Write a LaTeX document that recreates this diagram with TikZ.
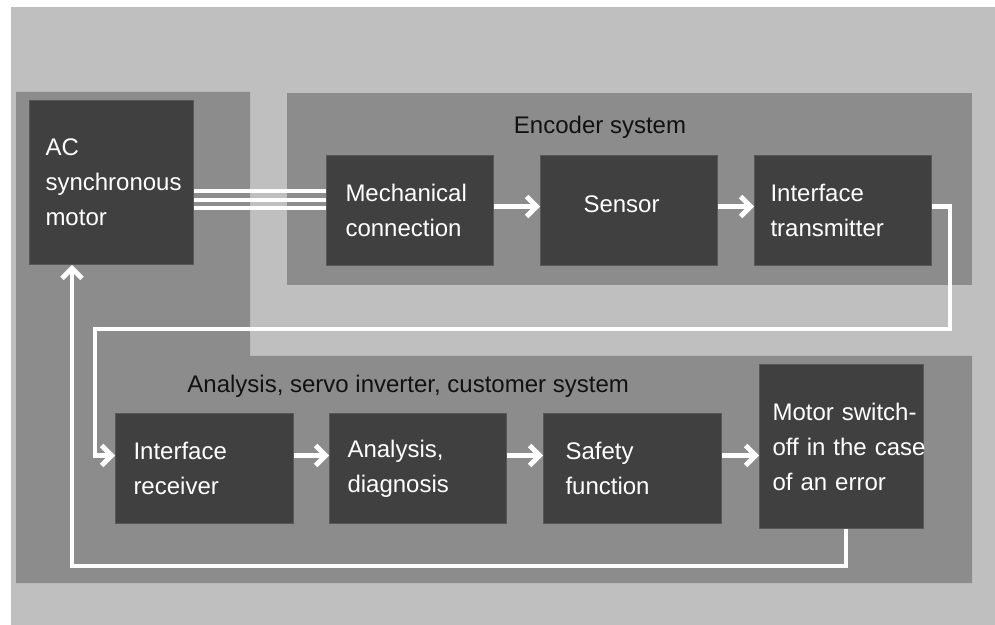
\documentclass[tikz,border=0pt]{standalone}
\usepackage{fontspec}
\setmainfont{Liberation Sans}
\usetikzlibrary{arrows.meta}
\usetikzlibrary{positioning}
\usetikzlibrary{calc}

\definecolor{panegray}{RGB}{191,191,191}
\definecolor{groupgray}{RGB}{140,140,140}
\definecolor{blockgray}{RGB}{64,64,64}
\definecolor{blockedge}{RGB}{88,88,88}
\definecolor{titleink}{RGB}{17,17,17}
\hyphenpenalty=10000

\begin{document}
\begin{tikzpicture}[x=0.5pt, y=-0.5pt,
    every node/.style={font=\fontsize{12}{17.5}\selectfont},
    block/.style={rectangle, draw=blockedge, line width=0.5pt, fill=blockgray, text=white, align=left, anchor=north west, inner xsep=8pt},
    grouptitle/.style={text=titleink, inner sep=0pt},
    flow/.style={draw=white, line width=2.4pt, -{Straight Barb[length=5pt, width=10pt]}},
    wire/.style={draw=white, line width=2pt}]

        \useasboundingbox (0,0) rectangle (995,625);

        % Outer panel
        \fill[panegray] (11,7) rectangle (995,625);

        % Motor and analysis group (one L-shaped area)
        \fill[groupgray] (16,92) -- (250,92) -- (250,356) -- (972,356) -- (972,583) -- (16,583) -- cycle;

        % Encoder group
        \fill[groupgray] (287,93) rectangle (972,285);

        % Group titles
        \node[grouptitle] (enctitle) at (600,127) {Encoder system};
        \node[grouptitle, anchor=west] (anatitle) at (187,386) {Analysis, servo inverter, customer system};

        % Motor
        \node[block, text width=66pt, minimum height=82pt] (motor) at (29,100) {AC\\synchronous\\motor};

        % Encoder blocks
        \node[block, text width=64.5pt, inner xsep=9.5pt, minimum height=55pt] (mech) at (326,155) {Mechanical\\connection};
        \node[block, text width=45.5pt, inner xsep=21.5pt, minimum height=55pt, text depth=6pt] (sensor) at (540,155) {Sensor};
        \node[block, text width=72.5pt, minimum height=55pt] (trans) at (754,155) {Interface\\transmitter};

        % Analysis blocks
        \node[block, text width=71pt, inner xsep=9pt, minimum height=55pt] (recv) at (115,413) {Interface\\receiver};
        \node[block, text width=70.5pt, inner xsep=9pt, minimum height=55pt] (anal) at (329,413) {Analysis,\\diagnosis};
        \node[block, text width=67pt, inner xsep=11pt, minimum height=55pt] (safe) at (543,413) {Safety\\function};
        \node[block, text width=69pt, inner xsep=6.5pt, minimum height=82pt] (off) at (759,364) {\mbox{Motor switch-}\\\mbox{off in the case}\\of an error};

        % Shaft between motor and encoder
        \foreach \y in {191,200,208} {
          \draw[wire] (motor.east |- 0,\y) -- (mech.west |- 0,\y);
        }

        % Encoder chain
        \draw[flow] ([yshift=2pt]mech.east) -- ([yshift=2pt]sensor.west);
        \draw[flow] ([yshift=2pt]sensor.east) -- ([yshift=2pt]trans.west);

        % Analysis chain
        \draw[flow] ([yshift=6.5pt]recv.east) -- ([yshift=6.5pt]anal.west);
        \draw[flow] ([yshift=6.5pt]anal.east) -- ([yshift=6.5pt]safe.west);
        \coordinate (tooff) at ([yshift=6.5pt]safe.east);
        \draw[flow] (tooff) -- (tooff -| off.west);

        % Transmitter to receiver
        \coordinate (fbR) at (950,329);
        \coordinate (fbL) at (95,329);
        \draw[flow] ([yshift=2pt]trans.east) -| (fbR) -- (fbL) |- ([yshift=6.5pt]recv.west);

        % Switch-off back to the motor
        \coordinate (retR) at (846,566);
        \coordinate (retL) at (72,566);
        \draw[flow] (off.south -| retR) -- (retR) -- (retL) -- (retL |- motor.south);

      \end{tikzpicture}
\end{document}
